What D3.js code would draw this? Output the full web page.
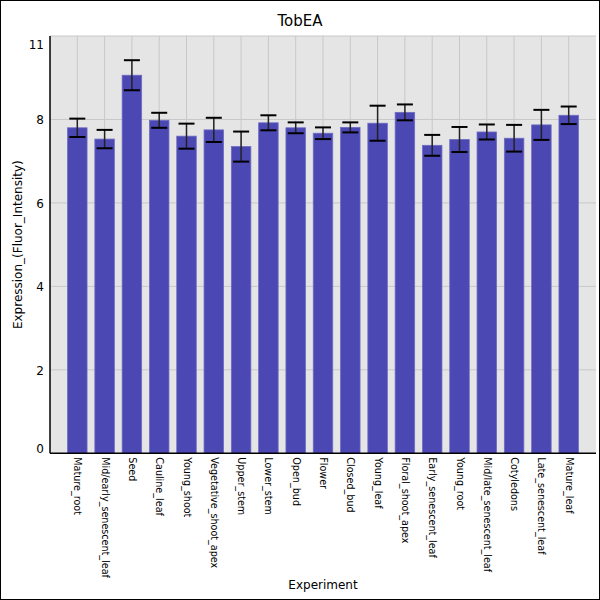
<!DOCTYPE html>
<html lang="en">
<head>
<meta charset="UTF-8">
<title>TobEA</title>
<script src="https://d3js.org/d3.v7.min.js"></script>
<style>
    body { margin: 0; background: #fff; }
    svg { display: block; font-family: 'DejaVu Sans', sans-serif; }
    .grid line { stroke: #c8c8c8; stroke-width: 1; }
</style>
</head>
<body>
<svg id="chart" width="600" height="600"></svg>
<script>
const categories = ["Mature_root", "Mid/early_senescent_leaf", "Seed", "Cauline_leaf", "Young_shoot",
    "Vegetative_shoot_apex", "Upper_stem", "Lower_stem", "Open_bud", "Flower", "Closed_bud",
    "Young_leaf", "Floral_shoot_apex", "Early_senescent_leaf", "Young_root",
    "Mid/late_senescent_leaf", "Cotyledons", "Late_senescent_leaf", "Mature_leaf"];
const means = [7.80, 7.53, 9.06, 7.98, 7.60, 7.75, 7.35, 7.92, 7.80, 7.67, 7.81,
    7.91, 8.17, 7.38, 7.52, 7.70, 7.55, 7.87, 8.10];
const errs = [0.22, 0.22, 0.36, 0.18, 0.30, 0.29, 0.36, 0.18, 0.13, 0.14, 0.12,
    0.42, 0.19, 0.25, 0.30, 0.18, 0.32, 0.36, 0.21];
const yTicks = [0, 2, 4, 6, 8, 10];
const yTickLabels = ["0", "2", "4", "6", "8", "11"];

const width = 600, height = 600;
const margin = { top: 36, right: 4, bottom: 146.7, left: 50 };
const svg = d3.select("#chart");

// outer frame
svg.append("rect").attr("x", 0.5).attr("y", 0.5)
    .attr("width", width - 1).attr("height", height - 1)
    .attr("fill", "#fff").attr("stroke", "#000");

const x = d3.scalePoint().domain(categories)
    .range([margin.left, width - margin.right]).padding(1);
const y = d3.scaleLinear().domain([0, 10])
    .range([height - margin.bottom, margin.top]);

// plot background
svg.append("rect")
    .attr("x", margin.left).attr("y", margin.top)
    .attr("width", width - margin.left - margin.right)
    .attr("height", height - margin.top - margin.bottom)
    .attr("fill", "#e5e5e5");

// grid
const grid = svg.append("g").attr("class", "grid");
grid.selectAll(".v").data(categories).join("line")
    .attr("x1", d => x(d)).attr("x2", d => x(d))
    .attr("y1", margin.top).attr("y2", height - margin.bottom);
grid.selectAll(".h").data(yTicks.slice(1, -1)).join("line")
    .attr("x1", margin.left).attr("x2", width - margin.right)
    .attr("y1", d => y(d)).attr("y2", d => y(d));
grid.append("line")
    .attr("x1", margin.left).attr("x2", width - margin.right)
    .attr("y1", margin.top).attr("y2", margin.top);

// bars
const barW = 19.5;
svg.append("g").selectAll("rect").data(means).join("rect")
    .attr("x", (d, i) => x(categories[i]) - barW / 2)
    .attr("y", d => y(d))
    .attr("width", barW)
    .attr("height", d => y(0) - y(d))
    .attr("fill", "#4b47b3")
    .attr("stroke", "#6e6bc4")
    .attr("stroke-width", 0.8);

// error bars
const capW = 16;
const eb = svg.append("g").selectAll("g").data(means).join("g");
eb.append("line")
    .attr("x1", (d, i) => x(categories[i])).attr("x2", (d, i) => x(categories[i]))
    .attr("y1", (d, i) => y(d + errs[i])).attr("y2", (d, i) => y(d - errs[i]))
    .attr("stroke", "#222").attr("stroke-width", 1.5);
eb.append("line")
    .attr("x1", (d, i) => x(categories[i]) - capW / 2).attr("x2", (d, i) => x(categories[i]) + capW / 2)
    .attr("y1", (d, i) => y(d + errs[i])).attr("y2", (d, i) => y(d + errs[i]))
    .attr("stroke", "#000").attr("stroke-width", 2);
eb.append("line")
    .attr("x1", (d, i) => x(categories[i]) - capW / 2).attr("x2", (d, i) => x(categories[i]) + capW / 2)
    .attr("y1", (d, i) => y(d - errs[i])).attr("y2", (d, i) => y(d - errs[i]))
    .attr("stroke", "#000").attr("stroke-width", 2);

// axes
const xAxis = svg.append("g")
    .attr("transform", `translate(0,${y(0)})`)
    .call(d3.axisBottom(x).tickSize(0).tickPadding(0));
xAxis.select(".domain").attr("stroke", "#000").attr("stroke-width", 1.5)
    .attr("d", `M${margin.left},0H${width - margin.right}`);
xAxis.selectAll(".tick text")
    .attr("font-size", 9.6)
    .attr("font-family", "'DejaVu Sans', sans-serif")
    .attr("fill", "#000")
    .attr("text-anchor", "start")
    .attr("dominant-baseline", "central")
    .attr("transform", "translate(0,4) rotate(90)")
    .attr("x", 0).attr("y", 0).attr("dy", null);

const yAxis = svg.append("g")
    .attr("transform", `translate(${margin.left},0)`)
    .call(d3.axisLeft(y).tickValues(yTicks).tickSize(0).tickPadding(6)
        .tickFormat((d, i) => yTickLabels[i]));
yAxis.select(".domain").attr("stroke", "#000").attr("stroke-width", 1.5)
    .attr("d", `M0,${margin.top}V${y(0)}`);
yAxis.selectAll(".tick text")
    .attr("font-size", 12)
    .attr("font-family", "'DejaVu Sans', sans-serif")
    .attr("fill", "#000")
    .attr("dy", (d, i) => i === 0 ? "-0.1em" : (i === yTicks.length - 1 ? "1.05em" : "0.35em"));

// titles
svg.append("text")
    .attr("x", 300).attr("y", 26)
    .attr("text-anchor", "middle")
    .attr("font-size", 15)
    .text("TobEA");
svg.append("text")
    .attr("x", (margin.left + width - margin.right) / 2).attr("y", 589)
    .attr("text-anchor", "middle")
    .attr("font-size", 12)
    .text("Experiment");
svg.append("text")
    .attr("transform", `translate(22,${(margin.top + y(0)) / 2}) rotate(-90)`)
    .attr("text-anchor", "middle")
    .attr("font-size", 12)
    .text("Expression_(Fluor_Intensity)");
</script>
</body>
</html>
